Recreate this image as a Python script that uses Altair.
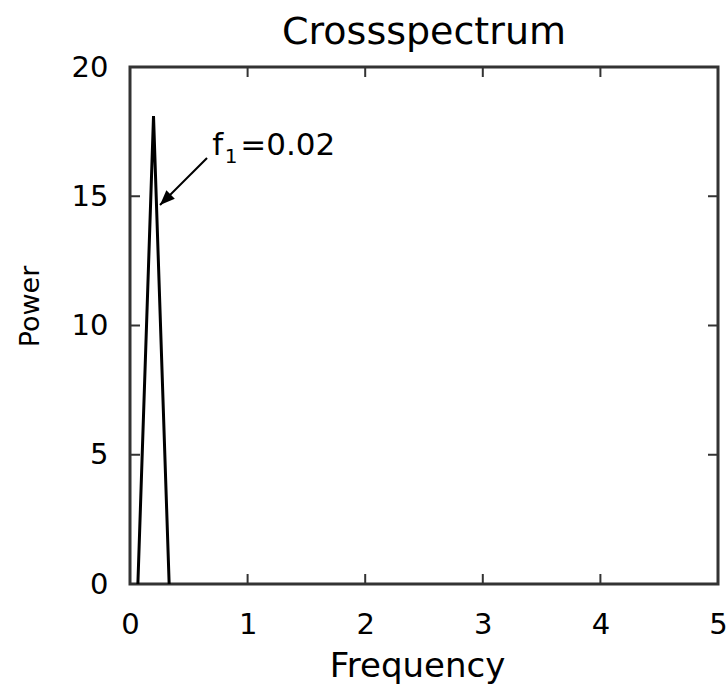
import altair as alt
import pandas as pd

# ---- data ----
freq = [0.067, 0.2, 0.333]
power = [0.0, 18.1, 0.0]

x_tick_values = [0, 1, 2, 3, 4, 5]
y_tick_values = [0, 5, 10, 15, 20]
inner_x_ticks = [1, 2, 3, 4]
inner_y_ticks = [5, 10, 15]

# annotation "f1=0.02" (f, subscript 1, =0.02)
ann_x = [0.70]
ann_y = [16.6]
ann_main = ["f"]
ann_sub = ["1"]
ann_rest = ["=0.02"]
arrow_start_x = [0.655]
arrow_start_y = [16.48]
arrow_tip_x = [0.255]
arrow_tip_y = [14.66]

# ---- layout ----
W, H = 588, 517
FONT = "DejaVu Sans"
FRAME = "#333333"
TICK = 10

xs = alt.Scale(domain=[0, 5], nice=False, zero=False)
ys = alt.Scale(domain=[0, 20], nice=False, zero=False)

x_axis = alt.Axis(values=x_tick_values, title="Frequency", format="d",
                  labelFlush=False, labelPadding=26, titlePadding=10,
                  titleFontSize=34, titleX=287)
y_axis = alt.Axis(values=y_tick_values, title="Power", format="d",
                  labelFlush=False, labelPadding=22, titlePadding=27,
                  titleFontSize=27, titleY=239)

spec_df = pd.DataFrame({"x": freq, "y": power})

line = alt.Chart(spec_df).mark_line(color="black", strokeWidth=3).encode(
    x=alt.X("x:Q", scale=xs, axis=x_axis),
    y=alt.Y("y:Q", scale=ys, axis=y_axis),
)

xt_df = pd.DataFrame({"x": inner_x_ticks})
yt_df = pd.DataFrame({"y": inner_y_ticks})

top_ticks = alt.Chart(xt_df).mark_rule(color=FRAME, strokeWidth=2).encode(
    x=alt.X("x:Q", scale=xs, axis=x_axis), y=alt.value(0), y2=alt.value(TICK))
bot_ticks = alt.Chart(xt_df).mark_rule(color=FRAME, strokeWidth=2).encode(
    x=alt.X("x:Q", scale=xs, axis=x_axis), y=alt.value(H - TICK), y2=alt.value(H))
left_ticks = alt.Chart(yt_df).mark_rule(color=FRAME, strokeWidth=2).encode(
    y=alt.Y("y:Q", scale=ys, axis=y_axis), x=alt.value(0), x2=alt.value(TICK))
right_ticks = alt.Chart(yt_df).mark_rule(color=FRAME, strokeWidth=2).encode(
    y=alt.Y("y:Q", scale=ys, axis=y_axis), x=alt.value(W - TICK), x2=alt.value(W))

arrow_df = pd.DataFrame({"x": arrow_start_x, "y": arrow_start_y,
                         "x2": arrow_tip_x, "y2": arrow_tip_y})
arrow_line = alt.Chart(arrow_df).mark_rule(color="black", strokeWidth=2).encode(
    x=alt.X("x:Q", scale=xs, axis=x_axis), y=alt.Y("y:Q", scale=ys, axis=y_axis),
    x2="x2:Q", y2="y2:Q")

head_df = pd.DataFrame({"x": arrow_tip_x, "y": arrow_tip_y})
arrow_head = alt.Chart(head_df).mark_point(
    shape="M0,0 L-0.4,1 L0.4,1 Z", filled=True, color="black", opacity=1,
    size=900, angle=225).encode(
    x=alt.X("x:Q", scale=xs, axis=x_axis), y=alt.Y("y:Q", scale=ys, axis=y_axis))

ann_df = pd.DataFrame({"x": ann_x, "y": ann_y, "main": ann_main,
                       "sub": ann_sub, "rest": ann_rest})
ann_f = alt.Chart(ann_df).mark_text(
    align="left", baseline="alphabetic", font=FONT, fontSize=31, color="black").encode(
    x=alt.X("x:Q", scale=xs, axis=x_axis), y=alt.Y("y:Q", scale=ys, axis=y_axis),
    text="main:N")
ann_1 = alt.Chart(ann_df).mark_text(
    align="left", baseline="alphabetic", font=FONT, fontSize=20, color="black",
    dx=12.5, dy=8).encode(
    x=alt.X("x:Q", scale=xs, axis=x_axis), y=alt.Y("y:Q", scale=ys, axis=y_axis),
    text="sub:N")
ann_r = alt.Chart(ann_df).mark_text(
    align="left", baseline="alphabetic", font=FONT, fontSize=31, color="black",
    dx=28).encode(
    x=alt.X("x:Q", scale=xs, axis=x_axis), y=alt.Y("y:Q", scale=ys, axis=y_axis),
    text="rest:N")

chart = alt.layer(
    line, top_ticks, bot_ticks, left_ticks, right_ticks, arrow_line, arrow_head,
    ann_f, ann_1, ann_r
).properties(
    width=W, height=H,
    background="white",
    title=alt.TitleParams("Crossspectrum", font=FONT, fontSize=38,
                          fontWeight="normal", color="black", offset=1),
    autosize=alt.AutoSizeParams(type="none"),
    padding={"left": 130, "top": 67, "right": 9, "bottom": 110},
).configure_view(
    stroke=FRAME, strokeWidth=3
).configure_axis(
    domain=False, ticks=False, grid=False,
    labelFont=FONT, labelFontSize=29, labelColor="black",
    titleFont=FONT, titleFontWeight="normal", titleColor="black",
)

chart.save("out.html", embed_options={"renderer": "svg", "actions": False})
